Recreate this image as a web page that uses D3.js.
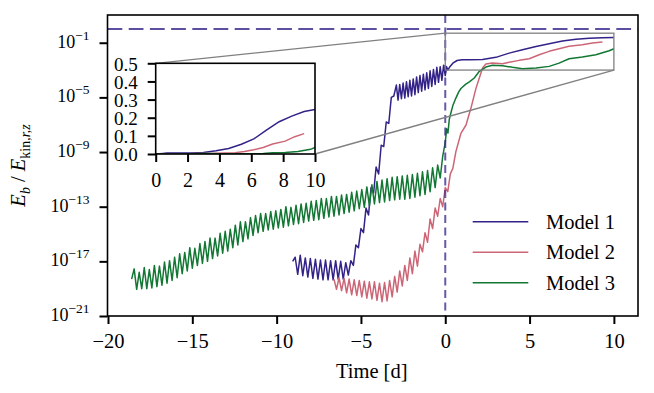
<!DOCTYPE html>
<html>
<head>
<meta charset="utf-8">
<script src="https://cdn.jsdelivr.net/npm/d3@7"></script>
<style>
  body { margin: 0; background: #fff; }
  svg text { font-family: "Liberation Serif", "DejaVu Serif", serif; fill: #000; }
</style>
</head>
<body>
<div id="chart"></div>
<script>
// time in days, values given as log10(E_b / E_kin,r,z)
const model1Time = [
  -9.05, -8.90, -8.75, -8.60, -8.45, -8.30, -8.15, -8.00, -7.85, -7.70,
  -7.55, -7.40, -7.25, -7.10, -6.95, -6.80, -6.65, -6.50, -6.35, -6.20,
  -6.05, -5.90, -5.75, -5.60, -5.45, -5.30, -5.15, -5.00, -4.85, -4.70,
  -4.55, -4.40, -4.25, -4.10, -3.95, -3.80, -3.65, -3.50, -3.35, -3.20,
  -3.05, -2.90, -2.80, -2.70, -2.60, -2.50, -2.40, -2.30, -2.20, -2.10,
  -2.00, -1.90, -1.80, -1.70, -1.60, -1.50, -1.40, -1.30, -1.20, -1.10,
  -1.00, -0.90, -0.80, -0.70, -0.60, -0.50, -0.40, -0.30, -0.20, -0.10,
  0.00, 0.08, 0.15, 0.25, 0.45, 0.70, 1.00, 1.42, 2.21, 3.00,
  3.79, 4.58, 5.38, 6.16, 6.95, 7.75, 8.54, 9.32, 10.00
];
const model1Exp = [
  -17.0, -16.7, -17.95, -16.55, -18.05, -16.75, -18.15, -16.8, -18.25, -16.85,
  -18.3, -16.9, -18.35, -16.9, -18.35, -16.95, -18.35, -16.95, -18.3, -17.0,
  -18.3, -17.1, -18.0, -16.95, -17.3, -15.8, -16.0, -14.6, -14.9, -13.1,
  -13.6, -11.6, -12.0, -10.1, -10.6, -8.5, -8.6, -6.8, -6.9, -5.0,
  -4.9, -4.1, -5.2, -4.05, -5.1, -3.95, -5.05, -3.85, -4.95, -3.75,
  -4.9, -3.65, -4.8, -3.5, -4.65, -3.4, -4.55, -3.3, -4.45, -3.2,
  -4.35, -3.05, -4.2, -2.95, -4.05, -2.8, -3.9, -2.75, -3.75, -2.65,
  -3.4, -2.75, -3.0, -2.8, -2.5, -2.3, -2.25, -2.24, -2.22, -2.07,
  -1.76, -1.52, -1.27, -1.08, -0.88, -0.75, -0.68, -0.63, -0.61
];

const model2Time = [
  -6.60, -6.45, -6.30, -6.15, -6.00, -5.85, -5.70, -5.55, -5.40, -5.25,
  -5.10, -4.95, -4.80, -4.65, -4.50, -4.35, -4.20, -4.05, -3.90, -3.75,
  -3.60, -3.45, -3.30, -3.15, -3.00, -2.85, -2.70, -2.55, -2.40, -2.25,
  -2.10, -1.95, -1.80, -1.65, -1.50, -1.35, -1.20, -1.05, -0.90, -0.75,
  -0.60, -0.45, -0.30, -0.15, 0.00, 0.15, 0.30, 0.45, 0.63, 0.93,
  1.23, 1.52, 1.82, 2.02, 2.21, 2.41, 2.80, 3.40, 3.79, 4.39,
  4.98, 5.57, 6.16, 6.75, 7.34, 8.13, 8.73, 9.32
];
const model2Exp = [
  -18.3, -19.05, -18.2, -19.15, -18.25, -19.3, -18.3, -19.45, -18.35, -19.5,
  -18.4, -19.6, -18.45, -19.7, -18.5, -19.75, -18.5, -19.85, -18.6, -19.95,
  -18.55, -19.9, -18.4, -19.6, -18.1, -19.25, -17.7, -18.8, -17.3, -18.4,
  -16.75, -17.9, -16.25, -17.35, -15.75, -16.3, -14.9, -15.6, -13.9, -14.6,
  -13.1, -13.7, -12.4, -13.0, -11.6, -11.9, -10.6, -10.2, -8.97, -7.63,
  -7.02, -5.8, -4.34, -3.58, -2.85, -2.56, -2.48, -2.53, -2.43, -2.29,
  -2.17, -1.88, -1.63, -1.44, -1.26, -1.15, -1.02, -0.95
];

const model3Time = [
  -18.60, -18.45, -18.30, -18.15, -18.00, -17.85, -17.70, -17.55, -17.40, -17.25,
  -17.10, -16.95, -16.80, -16.65, -16.50, -16.35, -16.20, -16.05, -15.90, -15.75,
  -15.60, -15.45, -15.30, -15.15, -15.00, -14.85, -14.70, -14.55, -14.40, -14.25,
  -14.10, -13.95, -13.80, -13.65, -13.50, -13.35, -13.20, -13.05, -12.90, -12.75,
  -12.60, -12.45, -12.30, -12.15, -12.00, -11.85, -11.70, -11.55, -11.40, -11.25,
  -11.10, -10.95, -10.80, -10.65, -10.50, -10.35, -10.20, -10.05, -9.90, -9.75,
  -9.60, -9.45, -9.30, -9.15, -9.00, -8.85, -8.70, -8.55, -8.40, -8.25,
  -8.10, -7.95, -7.80, -7.65, -7.50, -7.35, -7.20, -7.05, -6.90, -6.75,
  -6.60, -6.45, -6.30, -6.15, -6.00, -5.85, -5.70, -5.55, -5.40, -5.25,
  -5.10, -4.95, -4.80, -4.65, -4.50, -4.35, -4.20, -4.05, -3.90, -3.75,
  -3.60, -3.45, -3.30, -3.15, -3.00, -2.85, -2.70, -2.55, -2.40, -2.25,
  -2.10, -1.95, -1.80, -1.65, -1.50, -1.35, -1.20, -1.05, -0.90, -0.75,
  -0.60, -0.45, -0.30, -0.15, 0.00, 0.08, 0.16, 0.24, 0.32, 0.45,
  0.63, 0.80, 0.93, 1.20, 1.45, 1.72, 2.02, 2.41, 2.80, 3.40,
  3.99, 4.58, 5.38, 6.16, 6.75, 7.34, 8.13, 8.93, 9.72, 10.00
];
const model3Exp = [
  -18.3, -17.55, -19.05, -17.8, -19.0, -17.45, -19.0, -17.6, -18.95, -17.3,
  -18.85, -17.35, -18.75, -17.05, -18.6, -16.95, -18.4, -16.7, -18.2, -16.45,
  -17.9, -16.35, -17.7, -16.0, -17.5, -16.05, -17.3, -15.7, -17.15, -15.55,
  -17.0, -15.3, -16.8, -15.3, -16.6, -14.95, -16.4, -14.8, -16.25, -14.65,
  -16.0, -14.35, -15.8, -14.1, -15.55, -14.1, -15.35, -13.8, -15.1, -13.65,
  -14.9, -13.5, -14.8, -13.5, -14.7, -13.35, -14.65, -13.3, -14.55, -13.2,
  -14.5, -13.0, -14.4, -13.05, -14.3, -12.9, -14.25, -12.8, -14.15, -12.75,
  -14.05, -12.6, -14.0, -12.55, -13.95, -12.4, -13.85, -12.4, -13.75, -12.25,
  -13.7, -12.25, -13.6, -12.15, -13.5, -12.1, -13.4, -11.95, -13.3, -11.85,
  -13.15, -11.75, -13.05, -11.55, -12.95, -11.4, -12.8, -11.15, -12.7, -11.05,
  -12.65, -10.95, -12.55, -10.85, -12.5, -10.8, -12.45, -10.75, -12.45, -10.7,
  -12.4, -10.65, -12.3, -10.55, -12.2, -10.45, -12.1, -10.35, -11.9, -10.15,
  -11.6, -9.95, -10.9, -9.3, -8.3, -7.3, -7.6, -6.6, -6.2, -5.6,
  -5.05, -4.6, -4.35, -4.05, -3.85, -3.58, -3.09, -2.78, -2.65, -2.68,
  -2.8, -2.9, -2.85, -2.73, -2.49, -2.17, -2.05, -1.88, -1.59, -1.44
];

const modelNames = ["Model 1", "Model 2", "Model 3"];
const modelColors = ["#332288", "#CC6677", "#117733"];
const xTicks = [-20, -15, -10, -5, 0, 5, 10];
const yTickExps = [-21, -17, -13, -9, -5, -1];
const insetXTicks = [0, 2, 4, 6, 8, 10];
const insetYTicks = [0, 0.1, 0.2, 0.3, 0.4, 0.5];
const zoomBox = { t0: 0, t1: 10, lo: 1e-3, hi: 0.5 };
const refLevel = 1;   // horizontal dashed line
const refTime = 0;    // vertical dashed line

const width = 654, height = 393;
const plot = { left: 107.5, right: 638, top: 15, bottom: 316 };
const ins = { left: 155.7, right: 315, top: 63.3, bottom: 154 };

const series = [
  d3.zip(model1Time, model1Exp),
  d3.zip(model2Time, model2Exp),
  d3.zip(model3Time, model3Exp)
].map(s => s.map(([t, e]) => ({ t: t, v: Math.pow(10, e) })));

const svg = d3.select("#chart").append("svg")
  .attr("width", width).attr("height", height);

const x = d3.scaleLinear().domain([-20.03, 11.43]).range([plot.left, plot.right]);
const y = d3.scaleLog().domain([1e-21, Math.pow(10, 1.03)]).range([plot.bottom, plot.top]);

const defs = svg.append("defs");
defs.append("clipPath").attr("id", "mainClip").append("rect")
  .attr("x", plot.left).attr("y", plot.top)
  .attr("width", plot.right - plot.left).attr("height", plot.bottom - plot.top);
defs.append("clipPath").attr("id", "insetClip").append("rect")
  .attr("x", ins.left).attr("y", ins.top)
  .attr("width", ins.right - ins.left).attr("height", ins.bottom - ins.top);

// main curves
const line = d3.line().x(d => x(d.t)).y(d => y(d.v));
const main = svg.append("g").attr("clip-path", "url(#mainClip)");
series.forEach((s, i) => {
  main.append("path").datum(s)
    .attr("d", line)
    .attr("fill", "none")
    .attr("stroke", modelColors[i])
    .attr("stroke-width", 1.5)
    .attr("stroke-linejoin", "round");
});

// dashed reference lines
main.append("line")
  .attr("x1", plot.left).attr("x2", plot.right)
  .attr("y1", y(refLevel)).attr("y2", y(refLevel))
  .attr("stroke", "#332288").attr("stroke-opacity", 0.8)
  .attr("stroke-width", 2).attr("stroke-dasharray", "14.8,6.4");
main.append("line")
  .attr("x1", x(refTime)).attr("x2", x(refTime))
  .attr("y1", plot.top).attr("y2", plot.bottom)
  .attr("stroke", "#332288").attr("stroke-opacity", 0.75)
  .attr("stroke-width", 2).attr("stroke-dasharray", "8,4.5");

// zoom indicator box + connectors
main.append("rect")
  .attr("x", x(zoomBox.t0)).attr("y", y(zoomBox.hi))
  .attr("width", x(zoomBox.t1) - x(zoomBox.t0))
  .attr("height", y(zoomBox.lo) - y(zoomBox.hi))
  .attr("fill", "none").attr("stroke", "#808080").attr("stroke-width", 1.3);
main.append("line")
  .attr("x1", ins.left).attr("y1", ins.top)
  .attr("x2", x(zoomBox.t0)).attr("y2", y(zoomBox.hi))
  .attr("stroke", "#808080").attr("stroke-width", 1.3);
main.append("line")
  .attr("x1", ins.right).attr("y1", ins.bottom)
  .attr("x2", x(zoomBox.t1)).attr("y2", y(zoomBox.lo))
  .attr("stroke", "#808080").attr("stroke-width", 1.3);

// main axes
const xAxis = svg.append("g")
  .attr("transform", `translate(0,${plot.bottom})`)
  .call(d3.axisBottom(x).tickValues(xTicks).tickSize(8).tickPadding(9));
xAxis.selectAll("text").attr("font-size", 20.5);

const yAxis = svg.append("g")
  .attr("transform", `translate(${plot.left},0)`)
  .call(d3.axisLeft(y).tickValues(yTickExps.map(e => Math.pow(10, e)))
    .tickSize(8).tickPadding(10).tickFormat(""));
yAxis.selectAll(".tick text").each(function(d) {
  const t = d3.select(this).attr("dy", "0.45em");
  const e = Math.round(Math.log10(d));
  t.append("tspan").attr("font-size", 18).text("10");
  t.append("tspan").attr("font-size", 13.5).attr("dy", -8).text("\u2212" + Math.abs(e));
});

[xAxis, yAxis].forEach(a => {
  a.select(".domain").remove();
  a.selectAll(".tick line").attr("stroke", "#000").attr("stroke-width", 2);
});

svg.append("rect")
  .attr("x", plot.left).attr("y", plot.top)
  .attr("width", plot.right - plot.left).attr("height", plot.bottom - plot.top)
  .attr("fill", "none").attr("stroke", "#000").attr("stroke-width", 1.6);

// axis labels
svg.append("text")
  .attr("x", (plot.left + plot.right) / 2 - 1)
  .attr("y", 378)
  .attr("text-anchor", "middle")
  .attr("font-size", 20.5)
  .text("Time [d]");

const ylab = svg.append("text")
  .attr("transform", `translate(25,${(plot.top + plot.bottom) / 2}) rotate(-90)`)
  .attr("text-anchor", "middle")
  .attr("font-size", 20.5);
ylab.append("tspan").attr("font-style", "italic").text("E");
ylab.append("tspan").attr("font-style", "italic").attr("font-size", 14).attr("dy", 5).text("b");
ylab.append("tspan").attr("dy", -5).text(" / ");
ylab.append("tspan").attr("font-style", "italic").text("E");
ylab.append("tspan").attr("font-size", 14).attr("dy", 5).text("kin,");
ylab.append("tspan").attr("font-size", 14).attr("font-style", "italic").text("r,z");

// legend
const legend = svg.append("g");
modelNames.forEach((name, i) => {
  const ly = 221.7 + i * 30.5;
  legend.append("line")
    .attr("x1", 472.7).attr("x2", 528.3).attr("y1", ly).attr("y2", ly)
    .attr("stroke", modelColors[i]).attr("stroke-width", 1.5);
  legend.append("text")
    .attr("x", 546).attr("y", ly + 7)
    .attr("font-size", 20.5)
    .text(name);
});

// inset (linear zoom on 0..10 d)
const xi = d3.scaleLinear().domain([0, 10]).range([ins.left, ins.right]);
const yi = d3.scaleLinear().domain([0, 0.5]).range([ins.bottom, ins.top]);
svg.append("rect")
  .attr("x", ins.left).attr("y", ins.top)
  .attr("width", ins.right - ins.left).attr("height", ins.bottom - ins.top)
  .attr("fill", "#fff");
const insetLine = d3.line().x(d => xi(d.t)).y(d => yi(d.v));
const insetG = svg.append("g").attr("clip-path", "url(#insetClip)");
series.forEach((s, i) => {
  insetG.append("path").datum(s.filter(d => d.t >= -0.5))
    .attr("d", insetLine)
    .attr("fill", "none")
    .attr("stroke", modelColors[i])
    .attr("stroke-width", 1.5);
});

const xiAxis = svg.append("g")
  .attr("transform", `translate(0,${ins.bottom})`)
  .call(d3.axisBottom(xi).tickValues(insetXTicks).tickSize(8).tickPadding(11));
const yiAxis = svg.append("g")
  .attr("transform", `translate(${ins.left},0)`)
  .call(d3.axisLeft(yi).tickValues(insetYTicks).tickSize(8).tickPadding(10)
    .tickFormat(d3.format(".1f")));
[xiAxis, yiAxis].forEach(a => {
  a.select(".domain").remove();
  a.selectAll(".tick line").attr("stroke", "#000").attr("stroke-width", 2);
  a.selectAll("text").attr("font-size", 20);
});
yiAxis.selectAll("text").attr("font-size", 19).attr("dy", "0.36em");
svg.append("rect")
  .attr("x", ins.left).attr("y", ins.top)
  .attr("width", ins.right - ins.left).attr("height", ins.bottom - ins.top)
  .attr("fill", "none").attr("stroke", "#000").attr("stroke-width", 1.6);
</script>
</body>
</html>
